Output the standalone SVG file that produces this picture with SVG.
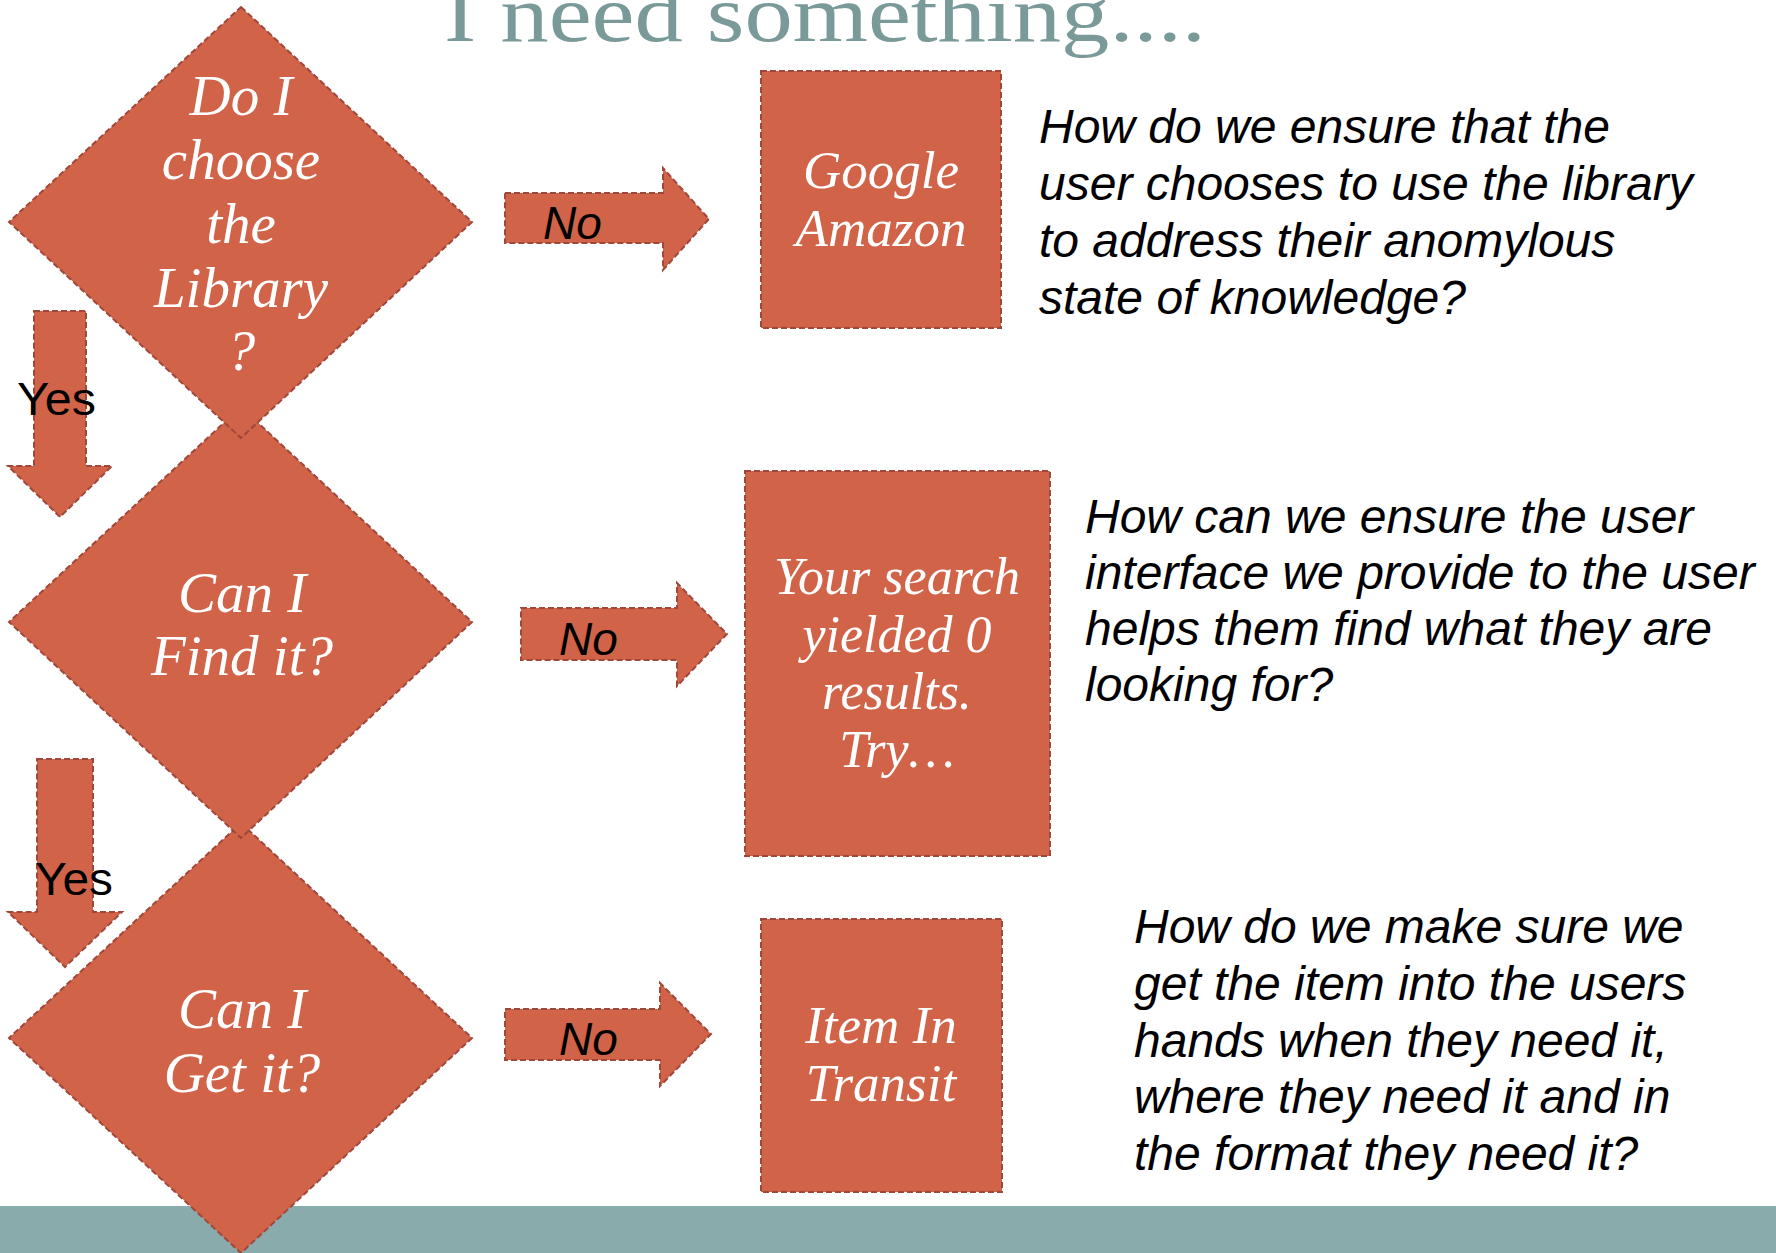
<svg xmlns="http://www.w3.org/2000/svg" width="1776" height="1253" viewBox="0 0 1776 1253">
  <style>
    .shape { fill: #D16349; stroke: #A0473A; stroke-width: 2; stroke-dasharray: 6 3; stroke-linejoin: miter; }
    .inner { font-family: "Liberation Serif", "Times New Roman", serif; font-style: italic; fill: #FFFFFF; text-anchor: middle; }
    .label { font-family: "Liberation Sans", Arial, sans-serif; fill: #000000; font-size: 46px; }
    .note { font-family: "Liberation Sans", Arial, sans-serif; font-style: italic; fill: #000000; font-size: 48px; }
    .title { font-family: "Liberation Serif", "Times New Roman", serif; fill: #7A9A99; font-size: 80px; }
  </style>

  <rect width="1776" height="1253" fill="#FFFFFF"/>

  <!-- footer band -->
  <rect id="footer-band" x="0" y="1206" width="1776" height="47" fill="#89ABAC"/>

  <!-- slide title, clipped by the top edge -->
  <text id="title" class="title" x="444" y="41" textLength="762" lengthAdjust="spacingAndGlyphs">I need something....</text>

  <!-- decision diamonds, lower ones first so the upper tips overlap them -->
  <g id="decision-get">
    <path class="shape" d="M241,823 L472,1038 L241,1253 L9,1038 Z"/>
    <text class="inner" font-size="57" x="242" y="1028">Can I</text>
    <text class="inner" font-size="57" x="242" y="1092">Get it?</text>
  </g>
  <g id="decision-find">
    <path class="shape" d="M241,407 L472,622 L241,838 L9,622 Z"/>
    <text class="inner" font-size="57" x="242" y="612">Can I</text>
    <text class="inner" font-size="57" x="242" y="675">Find it?</text>
  </g>
  <g id="decision-choose">
    <path class="shape" d="M241,7 L472,222 L241,438 L9,222 Z"/>
    <text class="inner" font-size="57" x="241" y="115">Do I</text>
    <text class="inner" font-size="57" x="241" y="179">choose</text>
    <text class="inner" font-size="57" x="241" y="243">the</text>
    <text class="inner" font-size="57" x="241" y="307">Library</text>
    <text class="inner" font-size="57" x="241" y="370">?</text>
  </g>

  <!-- outcome boxes -->
  <g id="outcome-search-engines">
    <rect class="shape" x="761" y="71" width="240" height="257"/>
    <text class="inner" font-size="53" x="881" y="188">Google</text>
    <text class="inner" font-size="53" x="881" y="246">Amazon</text>
  </g>
  <g id="outcome-no-results">
    <rect class="shape" x="745" y="471" width="305" height="385"/>
    <text class="inner" font-size="52" x="897" y="594">Your search</text>
    <text class="inner" font-size="52" x="897" y="652">yielded 0</text>
    <text class="inner" font-size="52" x="897" y="709">results.</text>
    <text class="inner" font-size="52" x="897" y="767">Try…</text>
  </g>
  <g id="outcome-in-transit">
    <rect class="shape" x="761" y="919" width="241" height="273"/>
    <text class="inner" font-size="53" x="881" y="1043">Item In</text>
    <text class="inner" font-size="53" x="881" y="1101">Transit</text>
  </g>

  <!-- block-arrow connectors with their labels -->
  <g id="connectors">
    <g id="yes-choose-to-find">
      <path class="shape" d="M34,311 H86 V466 H112 L60,517 L8,466 H34 Z"/>
      <text class="label" x="17" y="415" textLength="79" lengthAdjust="spacingAndGlyphs">Yes</text>
    </g>
    <g id="yes-find-to-get">
      <path class="shape" d="M37,759 H93 V912 H122 L65,967 L8,912 H37 Z"/>
      <text class="label" x="35" y="895" textLength="78" lengthAdjust="spacingAndGlyphs">Yes</text>
    </g>
    <g id="no-choose">
      <path class="shape" d="M505,193 H663 V168 L709,219 L663,270 V243 H505 Z"/>
      <text class="label" font-style="italic" x="543" y="239">No</text>
    </g>
    <g id="no-find">
      <path class="shape" d="M521,608 H677 V583 L727,634 L677,686 V660 H521 Z"/>
      <text class="label" font-style="italic" x="559" y="655">No</text>
    </g>
    <g id="no-get">
      <path class="shape" d="M505,1009 H660 V983 L711,1034 L660,1086 V1060 H505 Z"/>
      <text class="label" font-style="italic" x="559" y="1055">No</text>
    </g>
  </g>

  <!-- guiding questions -->
  <g id="question-choose">
    <text class="note" x="1039" y="143">How do we ensure that the</text>
    <text class="note" x="1039" y="200">user chooses to use the library</text>
    <text class="note" x="1039" y="257">to address their anomylous</text>
    <text class="note" x="1039" y="314">state of knowledge?</text>
  </g>
  <g id="question-find">
    <text class="note" x="1085" y="533">How can we ensure the user</text>
    <text class="note" x="1085" y="589">interface we provide to the user</text>
    <text class="note" x="1085" y="645">helps them find what they are</text>
    <text class="note" x="1085" y="701">looking for?</text>
  </g>
  <g id="question-get">
    <text class="note" x="1134" y="943">How do we make sure we</text>
    <text class="note" x="1134" y="1000">get the item into the users</text>
    <text class="note" x="1134" y="1057">hands when they need it,</text>
    <text class="note" x="1134" y="1113">where they need it and in</text>
    <text class="note" x="1134" y="1170">the format they need it?</text>
  </g>
</svg>
